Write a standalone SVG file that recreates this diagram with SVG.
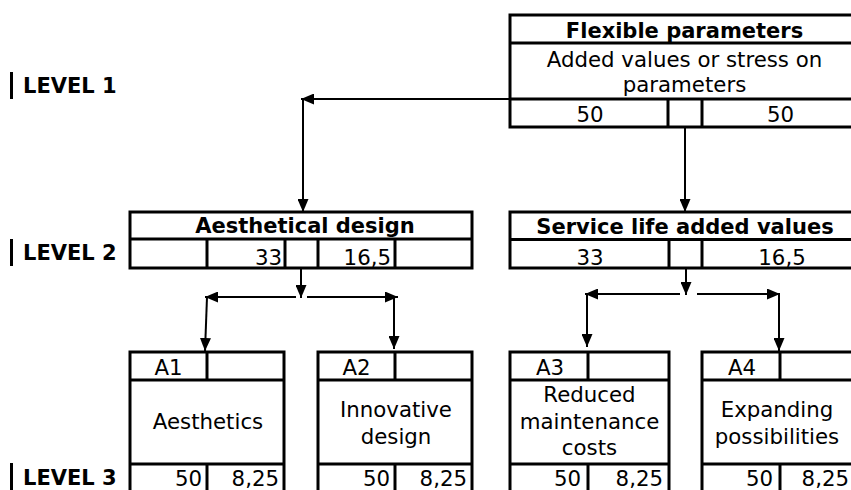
<svg xmlns="http://www.w3.org/2000/svg" width="851" height="490" viewBox="0 0 851 490">
<style>
.box{fill:#fff;stroke:#000;stroke-width:3}
.ln{stroke:#000;stroke-width:3;fill:none}
.cn{stroke:#000;stroke-width:2;fill:none;marker-end:url(#ah)}
text{font-family:"DejaVu Sans",Verdana,sans-serif;font-size:21.3px;fill:#000}
.b{font-weight:bold;font-size:21px}
.c{text-anchor:middle}
.r{text-anchor:end}
.lvl{stroke:#000;stroke-width:3}
</style>
<defs>
<marker id="ah" viewBox="0 0 13 11" refX="13" refY="5.5" markerWidth="13" markerHeight="11" orient="auto" markerUnits="userSpaceOnUse">
<path d="M0,0 L13,5.5 L0,11 z" fill="#000"/>
</marker>
</defs>
<rect width="851" height="490" fill="#fff"/>

<g id="levels">
<line class="lvl" x1="11.5" y1="72" x2="11.5" y2="99"/>
<text class="b" x="23" y="93">LEVEL 1</text>
<line class="lvl" x1="11.5" y1="239" x2="11.5" y2="266"/>
<text class="b" x="23" y="260">LEVEL 2</text>
<line class="lvl" x1="11.5" y1="463" x2="11.5" y2="490"/>
<text class="b" x="23" y="485">LEVEL 3</text>
</g>

<g id="connectors">
<path class="cn" d="M510,99 H301"/>
<path class="cn" d="M303,99 V212"/>
<path class="cn" d="M685,127 V212"/>
<path class="cn" d="M301,268 V298"/>
<path class="cn" d="M296,297 H205"/>
<path class="cn" d="M307,297 H398"/>
<path class="cn" d="M207,297 L205,351"/>
<path class="cn" d="M394,297 V349"/>
<path class="cn" d="M686,268 V295"/>
<path class="cn" d="M680,294 H585"/>
<path class="cn" d="M697,294 H780"/>
<path class="cn" d="M587,294 V347"/>
<path class="cn" d="M779,294 V351"/>
</g>

<g id="n-flex">
<rect class="box" x="510" y="15" width="349" height="112"/>
<line class="ln" x1="510" y1="43" x2="859" y2="43"/>
<line class="ln" x1="510" y1="99" x2="859" y2="99"/>
<line class="ln" x1="668" y1="99" x2="668" y2="127"/>
<line class="ln" x1="702" y1="99" x2="702" y2="127"/>
<text class="b c" x="684.5" y="38">Flexible parameters</text>
<text class="c" x="684.5" y="67">Added values or stress on</text>
<text class="c" x="684.5" y="92">parameters</text>
<text class="c" x="590" y="122">50</text>
<text class="c" x="780.5" y="122">50</text>
</g>

<g id="n-aes">
<rect class="box" x="130" y="212" width="342" height="56"/>
<line class="ln" x1="130" y1="239" x2="472" y2="239"/>
<line class="ln" x1="207" y1="239" x2="207" y2="268"/>
<line class="ln" x1="285" y1="239" x2="285" y2="268"/>
<line class="ln" x1="318" y1="239" x2="318" y2="268"/>
<line class="ln" x1="395" y1="239" x2="395" y2="268"/>
<text class="b c" x="305" y="233">Aesthetical design</text>
<text class="r" x="282" y="265">33</text>
<text class="r" x="391" y="265">16,5</text>
</g>

<g id="n-svc">
<rect class="box" x="510" y="212" width="350" height="56"/>
<line class="ln" x1="510" y1="239.5" x2="860" y2="239.5"/>
<line class="ln" x1="669" y1="239.5" x2="669" y2="268"/>
<line class="ln" x1="702" y1="239.5" x2="702" y2="268"/>
<text class="b c" x="685" y="233.5">Service life added values</text>
<text class="c" x="590" y="265">33</text>
<text class="c" x="782" y="265">16,5</text>
</g>

<g id="n-a1">
<rect class="box" x="130" y="352" width="154" height="150"/>
<line class="ln" x1="130" y1="380" x2="284" y2="380"/>
<line class="ln" x1="207" y1="352" x2="207" y2="380"/>
<line class="ln" x1="130" y1="464" x2="284" y2="464"/>
<line class="ln" x1="207" y1="464" x2="207" y2="502"/>
<text class="c" x="168.5" y="375">A1</text>
<text class="c" x="208" y="429">Aesthetics</text>
<text class="r" x="202" y="486">50</text>
<text class="r" x="279" y="486">8,25</text>
</g>

<g id="n-a2">
<rect class="box" x="318" y="352" width="154" height="150"/>
<line class="ln" x1="318" y1="380" x2="472" y2="380"/>
<line class="ln" x1="395" y1="352" x2="395" y2="380"/>
<line class="ln" x1="318" y1="464" x2="472" y2="464"/>
<line class="ln" x1="395" y1="464" x2="395" y2="502"/>
<text class="c" x="356.5" y="375">A2</text>
<text class="c" x="396" y="417">Innovative</text>
<text class="c" x="396" y="444">design</text>
<text class="r" x="390" y="486">50</text>
<text class="r" x="467" y="486">8,25</text>
</g>

<g id="n-a3">
<rect class="box" x="510" y="352" width="159" height="150"/>
<line class="ln" x1="510" y1="380" x2="669" y2="380"/>
<line class="ln" x1="588" y1="352" x2="588" y2="380"/>
<line class="ln" x1="510" y1="464" x2="669" y2="464"/>
<line class="ln" x1="588" y1="464" x2="588" y2="502"/>
<text class="c" x="550" y="375">A3</text>
<text class="c" x="589.5" y="401.5">Reduced</text>
<text class="c" x="589.5" y="428.5">maintenance</text>
<text class="c" x="589.5" y="455">costs</text>
<text class="r" x="581" y="486">50</text>
<text class="r" x="663" y="486">8,25</text>
</g>

<g id="n-a4">
<rect class="box" x="702" y="352" width="156" height="150"/>
<line class="ln" x1="702" y1="380" x2="858" y2="380"/>
<line class="ln" x1="780" y1="352" x2="780" y2="380"/>
<line class="ln" x1="702" y1="464" x2="858" y2="464"/>
<line class="ln" x1="780" y1="464" x2="780" y2="502"/>
<text class="c" x="742" y="375">A4</text>
<text class="c" x="777" y="417">Expanding</text>
<text class="c" x="777" y="444">possibilities</text>
<text class="r" x="773" y="486">50</text>
<text class="r" x="849" y="486">8,25</text>
</g>
</svg>
